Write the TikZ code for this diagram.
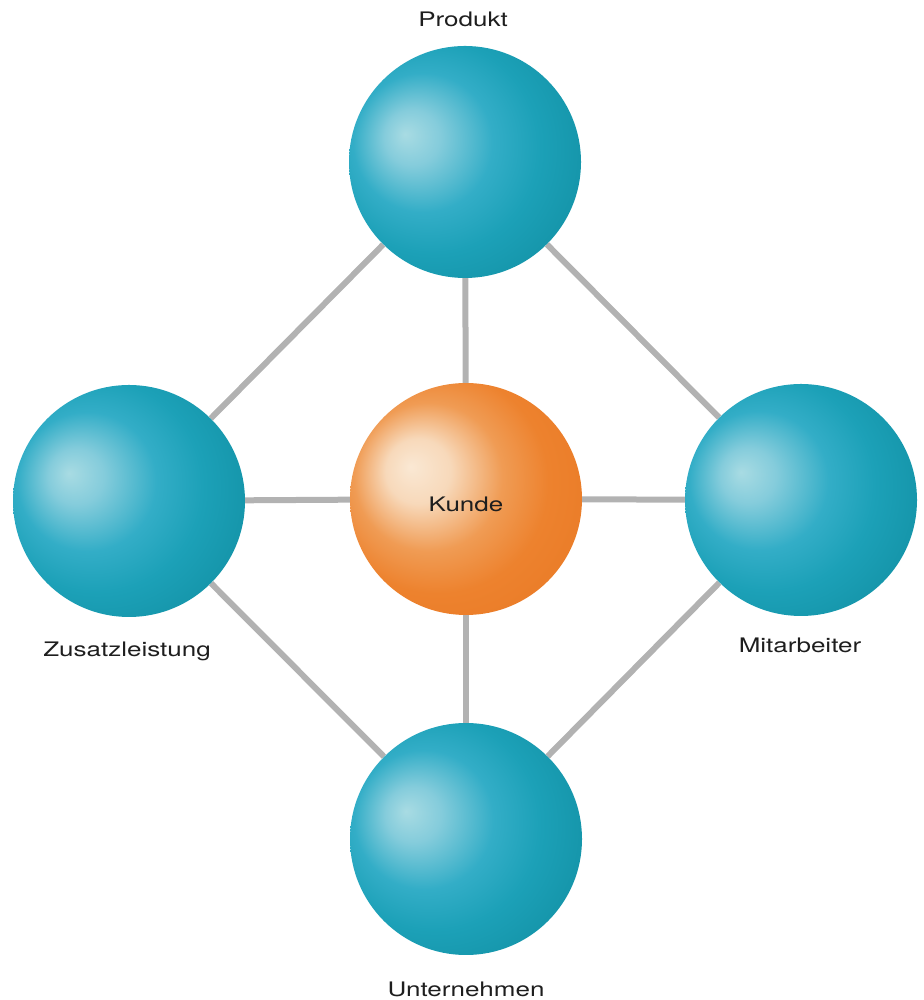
\documentclass[tikz,border=0pt]{standalone}
\usepackage{fontspec}
\newfontfamily\labelfont{TeX Gyre Heros}[FakeStretch=1.3]

\definecolor{linkgray}{RGB}{178,178,178}
\definecolor{labelgray}{RGB}{30,30,30}

% soft sphere shadings, highlight up and to the left
\pgfdeclareradialshading{tealsphere}{\pgfpoint{-13bp}{6bp}}{%
    rgb(0bp)=(0.66,0.86,0.89);
    rgb(6bp)=(0.52,0.80,0.86);
    rgb(15bp)=(0.20,0.68,0.78);
    rgb(23bp)=(0.11,0.63,0.72);
    rgb(32bp)=(0.08,0.58,0.66);
    rgb(40bp)=(0.10,0.60,0.73);
    rgb(50bp)=(0.10,0.60,0.73)}
\pgfdeclareradialshading{orangesphere}{\pgfpoint{-12bp}{7bp}}{%
    rgb(0bp)=(0.98,0.91,0.83);
    rgb(7bp)=(0.97,0.85,0.73);
    rgb(16bp)=(0.94,0.61,0.33);
    rgb(24bp)=(0.93,0.51,0.18);
    rgb(31bp)=(0.92,0.49,0.16);
    rgb(38bp)=(0.94,0.56,0.18);
    rgb(50bp)=(0.94,0.56,0.18)}

\begin{document}
\begin{tikzpicture}[
    x=1pt, y=1pt,
    ball/.style={circle, inner sep=0pt, minimum size=232pt, shade},
    tealball/.style={ball, shading=tealsphere},
    orangeball/.style={ball, shading=orangesphere},
    link/.style={draw=linkgray, line width=6pt},
    lbl/.style={font=\labelfont\fontsize{20}{24}\selectfont, text=labelgray, inner sep=0pt, anchor=base}
]
    \useasboundingbox (0,0) rectangle (923,1000);

    % ---- spheres ----
    \node[tealball]   (produkt)     at (465,838) {};
    \node[orangeball] (kunde)       at (466,501) {};
    \node[tealball]   (zusatz)      at (129,499) {};
    \node[tealball]   (mitarbeiter) at (801,500) {};
    \node[tealball]   (unternehmen) at (466,161) {};

    % ---- links between the spheres ----
    \foreach \a/\b in {produkt/kunde, kunde/unternehmen, zusatz/kunde, kunde/mitarbeiter,
                       produkt/zusatz, produkt/mitarbeiter, zusatz/unternehmen, mitarbeiter/unternehmen} {
        \draw[link] (\a) -- (\b);
    }

    % ---- labels ----
    \node[lbl] (kunde-lbl)       at (466,488) {Kunde};
    \node[lbl] (produkt-lbl)     at (463,973) {Produkt};
    \node[lbl] (zusatz-lbl)      at (127,343) {Zusatzleistung};
    \node[lbl] (mitarbeiter-lbl) at (800,347) {Mitarbeiter};
    \node[lbl] (unternehmen-lbl) at (466,3)   {Unternehmen};
\end{tikzpicture}
\end{document}
